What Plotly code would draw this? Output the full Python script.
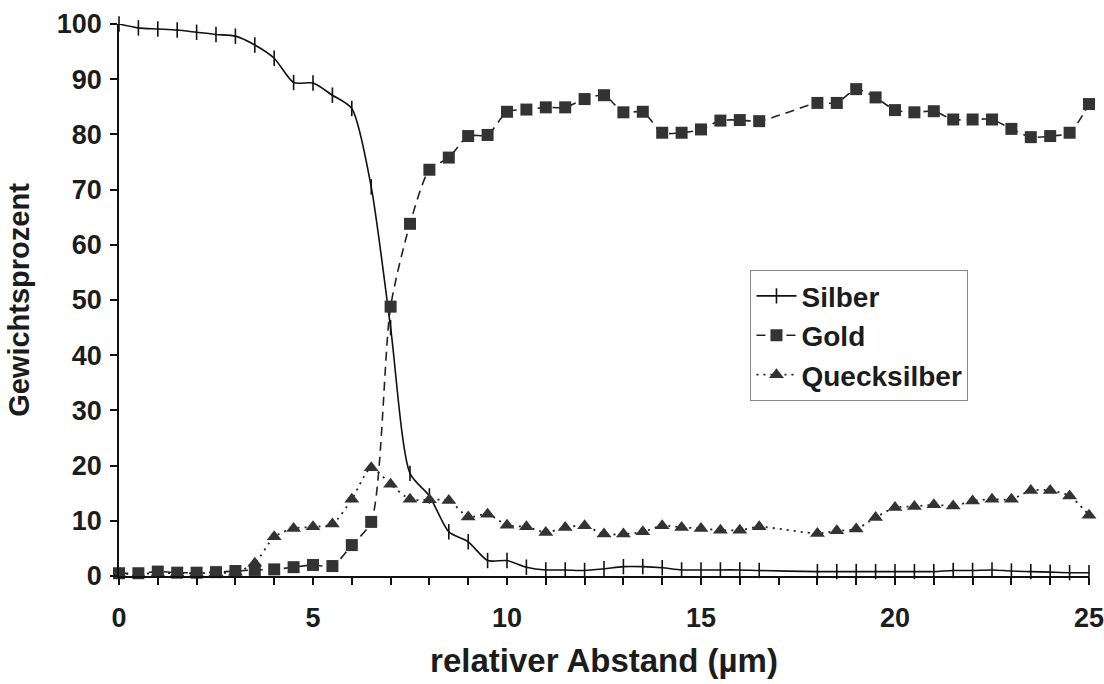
import plotly.graph_objects as go

# relative distance (µm); no measurements at 17 and 17.5
abstand = [0, 0.5, 1, 1.5, 2, 2.5, 3, 3.5, 4, 4.5, 5, 5.5, 6, 6.5, 7, 7.5, 8, 8.5,
           9, 9.5, 10, 10.5, 11, 11.5, 12, 12.5, 13, 13.5, 14, 14.5, 15, 15.5, 16, 16.5,
           18, 18.5, 19, 19.5, 20, 20.5, 21, 21.5, 22, 22.5, 23, 23.5, 24, 24.5, 25]

silber = [100, 99.3, 99.1, 98.9, 98.5, 98.1, 97.8, 96.2, 93.8, 89.4, 89.3, 87.1, 84.7, 70.5,
          45.0, 18.6, 14.5, 8.0, 6.2, 2.8, 2.8, 1.6, 1.1, 1.1, 1.0, 1.3, 1.7, 1.7, 1.5, 1.1,
          1.1, 1.1, 1.1, 1.0,
          0.8, 0.8, 0.8, 0.8, 0.8, 0.8, 0.8, 1.0, 1.0, 1.1, 0.9, 0.8, 0.7, 0.6, 0.6]

gold = [0.5, 0.5, 0.8, 0.6, 0.6, 0.7, 0.9, 1.1, 1.2, 1.6, 2.0, 1.8, 5.6, 9.8, 48.8, 63.8,
        73.6, 75.8, 79.7, 79.9, 84.1, 84.5, 84.9, 84.9, 86.4, 87.1, 84.0, 84.1, 80.3, 80.3,
        80.9, 82.5, 82.6, 82.4,
        85.7, 85.7, 88.2, 86.7, 84.4, 84.0, 84.2, 82.7, 82.7, 82.7, 81.0, 79.5, 79.7, 80.3, 85.5]

quecksilber = [0.4, 0.4, 0.5, 0.5, 0.5, 0.6, 0.7, 2.3, 7.1, 8.6, 8.9, 9.4, 13.9, 19.6, 16.6,
               13.9, 13.8, 13.7, 10.7, 11.2, 9.2, 8.9, 7.9, 8.8, 9.1, 7.6, 7.6, 8.0, 9.1, 8.8,
               8.6, 8.3, 8.3, 8.9,
               7.7, 8.2, 8.5, 10.6, 12.4, 12.6, 12.9, 12.7, 13.6, 13.9, 13.9, 15.5, 15.5, 14.5, 11.0]

x_ticks = list(range(0, 26))
x_labels = [str(v) if v % 5 == 0 else "" for v in x_ticks]
y_ticks = list(range(0, 101, 10))

FONT = "Liberation Sans, Arial, sans-serif"
TXT = "#1c1c1c"
MK = "#333333"

fig = go.Figure()

fig.add_trace(go.Scatter(
    x=abstand, y=silber, name="Silber", mode="lines+markers", legendrank=1,
    line=dict(color="#111111", width=1.6, shape="spline", smoothing=0.7),
    marker=dict(symbol="line-ns", size=11, line=dict(color="#111111", width=1.6)),
    cliponaxis=False,
))
fig.add_trace(go.Scatter(
    x=abstand, y=quecksilber, name="Quecksilber", mode="lines+markers", legendrank=3,
    line=dict(color="#222222", width=1.8, dash="2px,5px", shape="spline", smoothing=0.7),
    marker=dict(symbol="triangle-up", size=13, color=MK, line=dict(width=0)),
    cliponaxis=False,
))
fig.add_trace(go.Scatter(
    x=abstand, y=gold, name="Gold", mode="lines+markers", legendrank=2,
    line=dict(color="#222222", width=1.6, dash="9px,6px", shape="spline", smoothing=0.7),
    marker=dict(symbol="square", size=12, color=MK, line=dict(width=0)),
    cliponaxis=False,
))

axis_common = dict(showgrid=False, zeroline=False, showline=True, linecolor="#111111",
                   linewidth=1.6, tickcolor="#111111", tickwidth=1.6, ticklen=7,
                   automargin=False, ticklabeloverflow="allow")

fig.update_layout(
    width=1104, height=684,
    margin=dict(l=119, r=15, t=24, b=108, autoexpand=False),
    paper_bgcolor="white", plot_bgcolor="white",
    font=dict(family=FONT, color=TXT, size=27),
    showlegend=True,
    legend=dict(
        x=0.651, y=0.554, xanchor="left", yanchor="top",
        bgcolor="white", bordercolor="#888888", borderwidth=1,
        font=dict(family=FONT, size=28, color=TXT, weight="bold"),
        itemwidth=40, tracegroupgap=0,
    ),
    xaxis=dict(
        range=[0, 25], tickmode="array", tickvals=x_ticks, ticktext=x_labels,
        ticks="outside", ticklabelstandoff=10,
        tickfont=dict(family=FONT, size=27, color=TXT, weight="bold"),
        title=dict(text="relativer Abstand (µm)", standoff=17,
                   font=dict(family=FONT, size=33, color=TXT, weight="bold")),
        **axis_common,
    ),
    yaxis=dict(
        range=[0, 100], tickmode="array", tickvals=y_ticks,
        ticks="outside", ticklabelstandoff=3,
        tickfont=dict(family=FONT, size=27, color=TXT, weight="bold"),
        title=dict(text="Gewichtsprozent", standoff=19,
                   font=dict(family=FONT, size=29, color=TXT, weight="bold")),
        **axis_common,
    ),
    xaxis2=dict(
        overlaying="x", anchor="y", side="bottom", range=[0, 25],
        tickmode="array", tickvals=x_ticks, ticks="inside", showticklabels=False,
        showgrid=False, zeroline=False, showline=False, automargin=False,
        tickcolor="#111111", tickwidth=1.6, ticklen=6,
    ),
    yaxis2=dict(
        overlaying="y", anchor="x", side="left", range=[0, 100],
        tickmode="array", tickvals=y_ticks, ticks="inside", showticklabels=False,
        showgrid=False, zeroline=False, showline=False, automargin=False,
        tickcolor="#111111", tickwidth=1.6, ticklen=9,
    ),
)

fig.write_html("out.html")
